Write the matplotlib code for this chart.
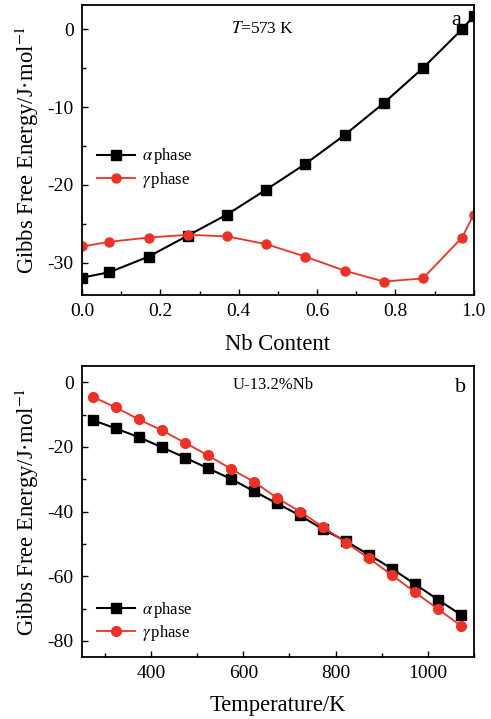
import matplotlib
matplotlib.use("Agg")
import matplotlib.pyplot as plt
from matplotlib.ticker import MultipleLocator

plt.rcParams["font.family"] = ["Liberation Serif", "DejaVu Serif"]
plt.rcParams["mathtext.fontset"] = "stix"
plt.rcParams["axes.unicode_minus"] = False

RED = "#ee3124"

# panel a: Gibbs free energy vs Nb content at 573 K
nb = [0.0, 0.07, 0.17, 0.27, 0.37, 0.47, 0.57, 0.67, 0.77, 0.87, 0.97, 1.0]
g_alpha_nb = [-31.9, -31.2, -29.2, -26.5, -23.8, -20.6, -17.3, -13.6, -9.5, -5.0, 0.0, 1.7]
g_gamma_nb = [-27.9, -27.3, -26.75, -26.4, -26.6, -27.6, -29.2, -31.0, -32.4, -32.0, -26.75, -23.8]

# panel b: Gibbs free energy vs temperature for U-13.2%Nb
temp = [273, 323, 373, 423, 473, 523, 573, 623, 673, 723, 773, 823, 873, 923, 973, 1023, 1073]
g_alpha_t = [-11.7, -14.3, -17.0, -20.1, -23.3, -26.6, -29.9, -33.7, -37.5, -41.2,
             -45.5, -49.2, -53.4, -57.7, -62.5, -67.3, -72.0]
g_gamma_t = [-4.5, -7.8, -11.5, -14.9, -18.7, -22.6, -26.8, -30.8, -35.8, -40.0,
             -44.8, -49.6, -54.5, -59.7, -65.0, -70.2, -75.4]

ylabel = "Gibbs Free Energy/J\u00b7mol$^{-1}$"

fig = plt.figure(figsize=(4.91, 7.19), dpi=100)
ax1 = fig.add_axes([0.167, 0.590, 0.798, 0.403])
ax2 = fig.add_axes([0.167, 0.086, 0.798, 0.405])


def style(ax):
    for s in ax.spines.values():
        s.set_linewidth(1.3)
    ax.tick_params(which="both", direction="in", top=False, right=False,
                   labelsize=14, width=1.0, pad=6)
    ax.tick_params(which="major", length=4.5)
    ax.tick_params(which="minor", length=3)


def legend(ax, y):
    ax.legend(loc="upper left", bbox_to_anchor=(0.02, y), frameon=False, fontsize=12,
              handlelength=2.3, handletextpad=0.4, labelspacing=0.2, borderaxespad=0)


ax1.plot(nb, g_alpha_nb, color="black", lw=1.5, marker="s", ms=6.5, label=r"$\alpha\,$phase")
ax1.plot(nb, g_gamma_nb, color=RED, lw=1.3, marker="o", ms=6.5, label=r"$\gamma\,$phase")
ax1.set_xlim(0, 1.0)
ax1.set_ylim(-34.1, 3.1)
ax1.xaxis.set_major_locator(MultipleLocator(0.2))
ax1.xaxis.set_minor_locator(MultipleLocator(0.1))
ax1.yaxis.set_major_locator(MultipleLocator(10))
ax1.yaxis.set_minor_locator(MultipleLocator(5))
style(ax1)
ax1.set_xlabel("Nb Content", fontsize=16.3)
ax1.set_ylabel(ylabel, fontsize=16.3)
ax1.yaxis.set_label_coords(-0.105, 0.5)
ax1.xaxis.set_label_coords(0.5, -0.135)
ax1.text(0.46, 0.917, r"$T$=573 K", transform=ax1.transAxes, ha="center", va="center", fontsize=12.5)
ax1.text(0.955, 0.945, "a", transform=ax1.transAxes, ha="center", va="center", fontsize=16)
legend(ax1, 0.535)

ax2.plot(temp, g_alpha_t, color="black", lw=1.5, marker="s", ms=6.5, label=r"$\alpha\,$phase")
ax2.plot(temp, g_gamma_t, color=RED, lw=1.3, marker="o", ms=7, label=r"$\gamma\,$phase")
ax2.set_xlim(250, 1100)
ax2.set_ylim(-85, 5)
ax2.xaxis.set_major_locator(MultipleLocator(200))
ax2.xaxis.set_minor_locator(MultipleLocator(100))
ax2.yaxis.set_major_locator(MultipleLocator(20))
ax2.yaxis.set_minor_locator(MultipleLocator(10))
style(ax2)
ax2.set_xlabel("Temperature/K", fontsize=16.3)
ax2.set_ylabel(ylabel, fontsize=16.3)
ax2.yaxis.set_label_coords(-0.105, 0.5)
ax2.xaxis.set_label_coords(0.5, -0.13)
ax2.text(0.487, 0.935, "U-13.2%Nb", transform=ax2.transAxes, ha="center", va="center", fontsize=12)
ax2.text(0.965, 0.925, "b", transform=ax2.transAxes, ha="center", va="center", fontsize=16)
legend(ax2, 0.22)

fig.savefig("out.png", dpi=100)
